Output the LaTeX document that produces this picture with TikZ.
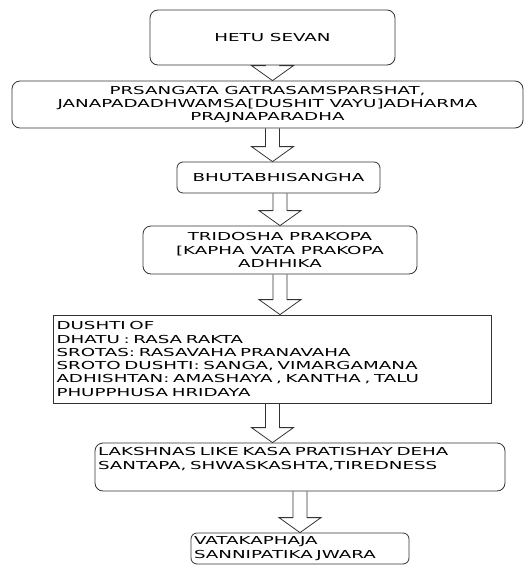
\documentclass[tikz,border=0pt]{standalone}
\usepackage{fontspec}
\setmainfont[FakeStretch=1.66]{DejaVu Sans}
\usetikzlibrary{calc}
\begin{document}
\begin{tikzpicture}[x=1pt,y=-1pt]
\tikzstyle{box} = [draw=black!80,line width=0.8,rounded corners=8,text=black,font=\fontsize{11}{13.3}\selectfont,inner sep=3];
\tikzstyle{sqbox} = [box,rounded corners=0];
\tikzstyle{blockarr} = [draw=black!80,line width=0.8,to path={let \p1=(\tikztostart), \p2=(\tikztotarget) in (\x1-7pt,\y1) -- (\x1-7pt,\y2+15pt) -- (\x1-21pt,\y2+15pt) -- (\x1,\y2) -- (\x1+21pt,\y2+15pt) -- (\x1+7pt,\y2+15pt) -- (\x1+7pt,\y1)}];
\useasboundingbox (0,0) rectangle (528,565);
\node [box,minimum width=245,minimum height=55] (v1) at (272.5,37.5) {HETU SEVAN};
\node [box,minimum width=511,minimum height=47,align=center] (v2) at (267.5,104.5) {PRSANGATA GATRASAMSPARSHAT,\\JANAPADADHWAMSA[DUSHIT VAYU]ADHARMA\\PRAJNAPARADHA};
\node [box,rounded corners=6,minimum width=203,minimum height=31] (v3) at (278.5,177.5) {BHUTABHISANGHA};
\node [box,minimum width=274,minimum height=48,align=center] (v4) at (280,250) {TRIDOSHA PRAKOPA\\{[}KAPHA VATA PRAKOPA\\ADHHIKA};
\node [sqbox,text width=432,align=left,minimum height=88] (v5) at (272.5,359) {DUSHTI OF\\DHATU : RASA RAKTA\\SROTAS: RASAVAHA PRANAVAHA\\SROTO DUSHTI: SANGA, VIMARGAMANA\\ADHISHTAN: AMASHAYA , KANTHA , TALU\\PHUPPHUSA HRIDAYA};
\node [box,text width=404,align=left,minimum height=48] (v6) at (300,467) {LAKSHNAS LIKE KASA PRATISHAY DEHA\\SANTAPA, SHWASKASHTA,TIREDNESS\\\strut};
\node [box,rounded corners=6,text width=212,align=left,minimum height=31,inner ysep=1] (v7) at (300,548.5) {VATAKAPHAJA\\SANNIPATIKA JWARA};
\draw [blockarr] (v1.south) to (v2.north -| v1.south);
\draw [blockarr] (v2.south -| v1.south) to (v3.north -| v1.south);
\draw [blockarr] (v3.south -| v4.north) to (v4.north);
\draw [blockarr] (v4.south) to (v5.north -| v4.south);
\draw [blockarr] (v5.south) to (v6.north -| v5.south);
\draw [blockarr] (v6.south) to (v7.north);
\end{tikzpicture}
\end{document}
